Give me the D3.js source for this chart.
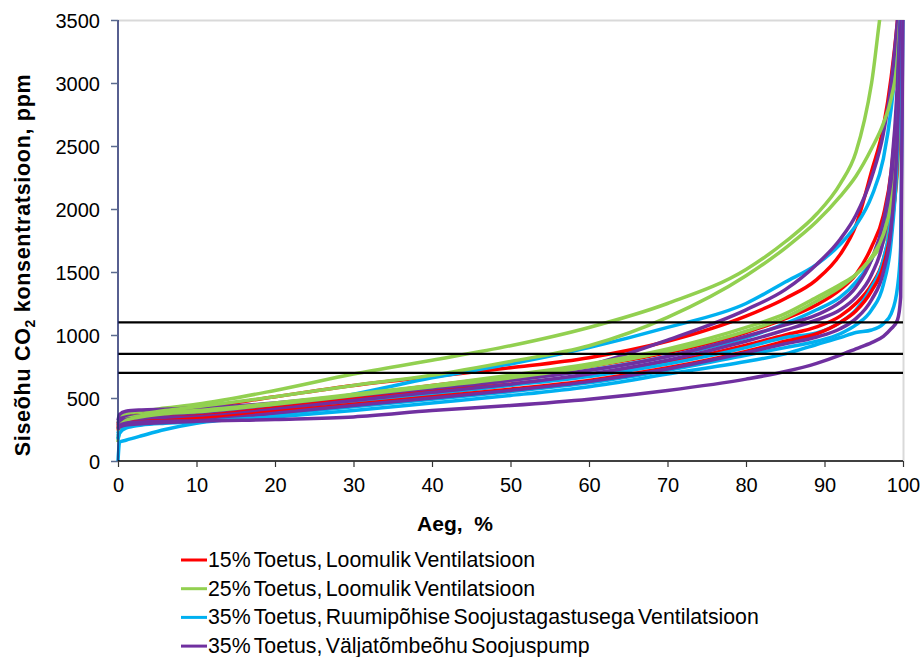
<!DOCTYPE html>
<html>
<head>
<meta charset="utf-8">
<script src="https://cdn.jsdelivr.net/npm/d3@7/dist/d3.min.js"></script>
<style>
  html, body { margin: 0; padding: 0; background: #fff; }
  svg { display: block; font-family: "Liberation Sans", Arial, sans-serif; }
</style>
</head>
<body>
<svg id="chart" width="922" height="657"></svg>
<script>
// Share of time (%) at which each duration curve is sampled
const timeShare = [0, 0.2, 1, 3, 6, 10, 20, 30, 40, 50, 60, 70, 80, 85, 89, 92, 94, 96, 97.5, 98.5, 99.3, 99.7, 100];

// Indoor CO2 duration curves (ppm), one list per room, grouped by scenario
const toetus15 = [
  [290, 320, 350, 375, 395, 420, 510, 600, 670, 740, 820, 950, 1150, 1290, 1440, 1640, 1870, 2300, 2650, 3050, 3500, 3800, 4000],
  [260, 290, 310, 330, 345, 360, 440, 520, 600, 670, 750, 860, 1020, 1130, 1240, 1360, 1480, 1700, 1950, 2300, 2900, 3500, 3800],
  [270, 300, 320, 335, 345, 355, 420, 490, 550, 610, 680, 780, 920, 1000, 1064, 1150, 1250, 1400, 1600, 1900, 2500, 3200, 3700],
  [240, 270, 290, 310, 320, 335, 390, 450, 510, 570, 640, 740, 870, 950, 1010, 1100, 1190, 1350, 1550, 1850, 2400, 3100, 3700]
];
const toetus25 = [
  [300, 340, 370, 395, 420, 450, 560, 690, 800, 915, 1060, 1250, 1520, 1740, 1960, 2200, 2450, 3000, 3700, 3900, 4000, 4000, 4000],
  [280, 310, 340, 370, 400, 430, 510, 600, 680, 790, 915, 1140, 1470, 1690, 1900, 2100, 2260, 2480, 2680, 2880, 3200, 3600, 3800],
  [250, 290, 330, 360, 385, 400, 460, 530, 600, 680, 770, 890, 1060, 1170, 1300, 1400, 1480, 1610, 1740, 1920, 2300, 3100, 3800],
  [150, 270, 320, 350, 375, 390, 450, 520, 590, 660, 750, 870, 1030, 1140, 1270, 1380, 1480, 1620, 1800, 2050, 2500, 3100, 3600]
];
const toetus35Ventilatsioon = [
  [220, 260, 290, 310, 325, 340, 420, 530, 660, 770, 900, 1060, 1250, 1420, 1560, 1720, 1870, 2100, 2400, 2800, 3300, 3700, 4000],
  [200, 250, 280, 300, 315, 330, 400, 480, 560, 640, 720, 830, 980, 1090, 1200, 1300, 1420, 1600, 1850, 2200, 2900, 3500, 3800],
  [180, 230, 270, 290, 305, 320, 390, 460, 530, 600, 670, 770, 900, 980, 1016, 1100, 1200, 1380, 1600, 1950, 2700, 3500, 3800],
  [170, 220, 260, 285, 300, 310, 370, 430, 490, 550, 620, 720, 840, 900, 950, 1010, 1080, 1200, 1400, 1750, 2500, 3400, 3800],
  [0, 150, 165, 200, 250, 300, 350, 400, 460, 520, 590, 690, 790, 850, 925, 980, 1020, 1040, 1090, 1170, 1380, 1700, 3600]
];
const toetus35Soojuspump = [
  [320, 370, 395, 405, 410, 420, 460, 520, 580, 650, 760, 960, 1200, 1360, 1560, 1760, 1950, 2250, 2600, 3000, 3500, 3800, 4000],
  [300, 330, 350, 360, 365, 370, 430, 500, 570, 640, 720, 830, 990, 1080, 1159, 1260, 1380, 1600, 1900, 2300, 3000, 3600, 3900],
  [280, 310, 330, 340, 345, 350, 410, 480, 545, 610, 690, 800, 950, 1040, 1119, 1200, 1300, 1480, 1750, 2150, 2900, 3500, 3800],
  [260, 280, 300, 310, 315, 320, 380, 440, 500, 560, 630, 730, 860, 930, 984, 1050, 1130, 1280, 1500, 1850, 2600, 3400, 3800],
  [250, 270, 285, 295, 305, 315, 330, 350, 400, 440, 490, 560, 650, 710, 775, 840, 890, 940, 990, 1050, 1120, 1300, 3600]
];

// Comfort class limits (ppm)
const limits = [700, 850, 1100];

const xTicks = d3.range(0, 101, 10);
const yTicks = d3.range(0, 3501, 500);

const seriesNames = [
  "15% Toetus, Loomulik Ventilatsioon",
  "25% Toetus, Loomulik Ventilatsioon",
  "35% Toetus, Ruumipõhise Soojustagastusega Ventilatsioon",
  "35% Toetus, Väljatõmbeõhu Soojuspump"
];
const seriesColors = ["#ff0000", "#92d050", "#00b0f0", "#7030a0"];
const seriesCurves = [toetus15, toetus25, toetus35Ventilatsioon, toetus35Soojuspump];

const svg = d3.select("#chart");
const plotLeft = 118, plotRight = 903, plotTop = 20, plotBottom = 461;

const x = d3.scaleLinear().domain([0, 100]).range([plotLeft, plotRight]);
const y = d3.scaleLinear().domain([0, 3500]).range([plotBottom, plotTop]);

svg.append("defs").append("clipPath").attr("id", "plotClip")
  .append("rect").attr("x", plotLeft - 2).attr("y", plotTop).attr("width", plotRight - plotLeft + 4).attr("height", plotBottom - plotTop);

// Plot frame (top and right edges)
svg.append("path")
  .attr("d", `M${plotLeft},${plotTop + 0.5}H${plotRight + 0.5}V${plotBottom}`)
  .attr("fill", "none").attr("stroke", "#d9d9d9").attr("stroke-width", 2);

const line = d3.line()
  .x((d, i) => x(timeShare[i]))
  .y(d => y(d))
  .curve(d3.curveMonotoneX);

// Interleave rooms so no scenario hides the others completely
const plotG = svg.append("g").attr("clip-path", "url(#plotClip)");
const maxRooms = d3.max(seriesCurves, s => s.length);
for (let r = 0; r < maxRooms; r++) {
  seriesCurves.forEach((curves, si) => {
    if (curves[r]) {
      plotG.append("path")
        .attr("d", line(curves[r]))
        .attr("fill", "none")
        .attr("stroke", seriesColors[si])
        .attr("stroke-width", 3.5)
        .attr("stroke-linejoin", "round");
    }
  });
}

// Limit lines
svg.append("g").selectAll("line").data(limits).join("line")
  .attr("x1", plotLeft).attr("x2", plotRight)
  .attr("y1", d => y(d)).attr("y2", d => y(d))
  .attr("stroke", "#000").attr("stroke-width", 2.2);

// Y axis
const yAxis = svg.append("g").attr("transform", `translate(${plotLeft},0)`)
  .call(d3.axisLeft(y).tickValues(yTicks).tickSize(7).tickPadding(11).tickFormat(d3.format("d")));
yAxis.select(".domain").attr("stroke", "#1f2a6b").attr("stroke-width", 1.5).attr("d", `M0,${plotTop}V${plotBottom}`);
yAxis.selectAll(".tick line").attr("stroke", "#5b6b8f").attr("stroke-width", 1.5);
yAxis.selectAll(".tick text").attr("font-size", 20).attr("fill", "#000").attr("dy", "0.35em")
  .attr("font-family", "Liberation Sans, Arial, sans-serif");

// X axis
const xAxis = svg.append("g").attr("transform", `translate(0,${plotBottom})`)
  .call(d3.axisBottom(x).tickValues(xTicks).tickSize(6).tickPadding(11));
xAxis.select(".domain").attr("stroke", "#000").attr("stroke-width", 1.5).attr("d", `M${plotLeft},0H${plotRight}`);
xAxis.selectAll(".tick line").attr("stroke", "#333").attr("stroke-width", 1.2);
xAxis.selectAll(".tick text").attr("font-size", 20).attr("fill", "#000")
  .attr("font-family", "Liberation Sans, Arial, sans-serif");

// Axis titles
svg.append("text")
  .attr("x", 455).attr("y", 531)
  .attr("text-anchor", "middle").attr("font-size", 21).attr("font-weight", "bold")
  .style("white-space", "pre")
  .text("Aeg,  %");

const yTitle = svg.append("text")
  .attr("transform", `translate(30,265) rotate(-90)`)
  .attr("text-anchor", "middle").attr("font-size", 21.5).attr("font-weight", "bold")
  .attr("letter-spacing", 0.7);
yTitle.append("tspan").text("Siseõhu CO");
yTitle.append("tspan").attr("font-size", 14).attr("dy", 5).text("2");
yTitle.append("tspan").attr("dy", -5).text(" konsentratsioon, ppm");

// Legend
const legend = svg.append("g");
seriesNames.forEach((name, i) => {
  const ly = 560 + i * 28.7;
  legend.append("line")
    .attr("x1", 181).attr("x2", 207).attr("y1", ly).attr("y2", ly)
    .attr("stroke", seriesColors[i]).attr("stroke-width", 3);
  legend.append("text")
    .attr("x", 208).attr("y", ly + 7)
    .attr("font-size", 21.3).attr("word-spacing", -2.5)
    .text(name);
});
</script>
</body>
</html>
